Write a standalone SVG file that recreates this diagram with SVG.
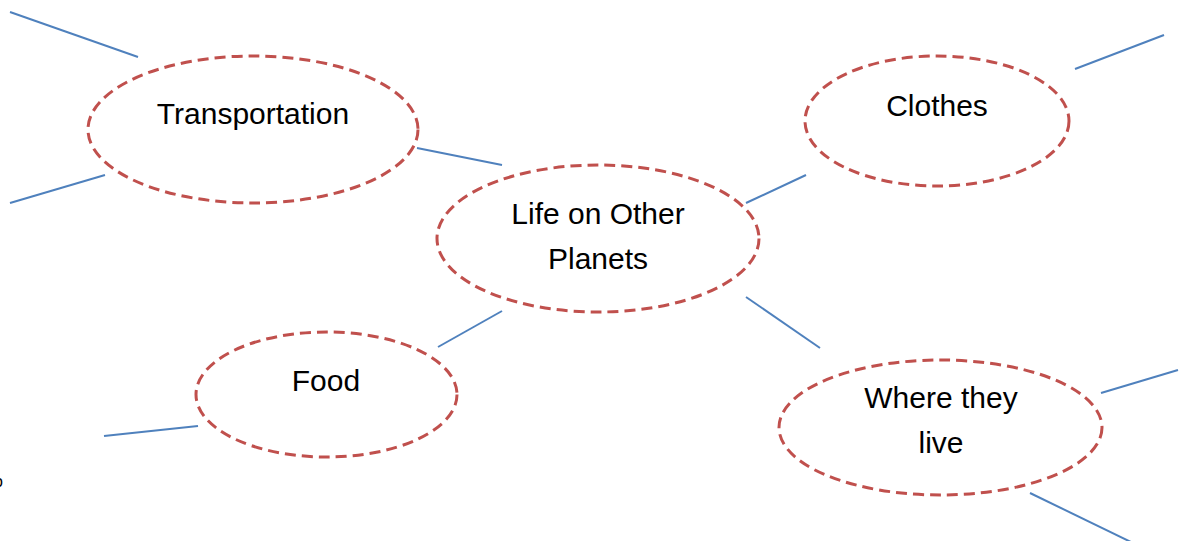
<svg xmlns="http://www.w3.org/2000/svg" width="1185" height="541" viewBox="0 0 1185 541">
<style>
.bubble{fill:#fff;stroke:#C0504D;stroke-width:3;stroke-dasharray:11 6}
.lbl{font-family:"Liberation Sans",Arial,sans-serif;font-size:30px;fill:#000;text-anchor:middle}
.conn line{stroke:#4F81BD;stroke-width:2}
</style>
<rect width="1185" height="541" fill="#fff"/>
<g id="connectors" class="conn">
<line x1="10" y1="12" x2="138" y2="57"/>
<line x1="10" y1="203" x2="105" y2="175"/>
<line x1="417" y1="148" x2="502" y2="165"/>
<line x1="746" y1="203" x2="806" y2="175"/>
<line x1="1075" y1="69" x2="1164" y2="35"/>
<line x1="438" y1="347" x2="502" y2="311"/>
<line x1="104" y1="436" x2="198" y2="426"/>
<line x1="746" y1="297" x2="820" y2="348"/>
<line x1="1101" y1="393" x2="1178" y2="370"/>
<line x1="1030" y1="493" x2="1133" y2="543"/>
</g>
<g id="transportation">
<ellipse class="bubble" cx="253" cy="129.5" rx="165" ry="73.5"/>
<text class="lbl" x="253" y="124">Transportation</text>
</g>
<g id="life">
<ellipse class="bubble" cx="598" cy="238.5" rx="161" ry="73.5"/>
<text class="lbl" x="598" y="224">Life on Other</text>
<text class="lbl" x="598" y="269">Planets</text>
</g>
<g id="clothes">
<ellipse class="bubble" cx="937" cy="121" rx="132" ry="65"/>
<text class="lbl" x="937" y="116">Clothes</text>
</g>
<g id="food">
<ellipse class="bubble" cx="326.5" cy="394.5" rx="130.5" ry="62.5"/>
<text class="lbl" x="326" y="391">Food</text>
</g>
<g id="where">
<ellipse class="bubble" cx="940.5" cy="427.5" rx="161.5" ry="67.5"/>
<text class="lbl" x="941" y="408">Where they</text>
<text class="lbl" x="941" y="453">live</text>
</g>
<text x="-6" y="487" font-family="Liberation Sans,Arial,sans-serif" font-size="16" fill="#000">o</text>
</svg>
